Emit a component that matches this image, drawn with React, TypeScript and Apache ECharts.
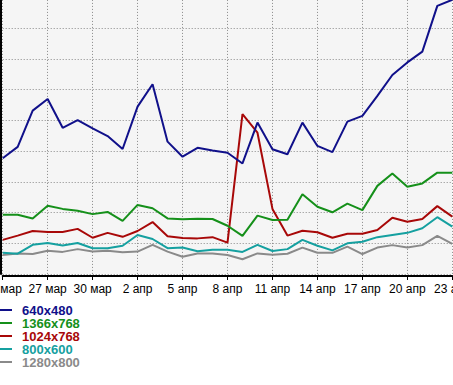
import React, { useEffect, useRef } from "react";
import * as echarts from "echarts";

const dates = [
  "24 мар", "25 мар", "26 мар", "27 мар", "28 мар", "29 мар", "30 мар", "31 мар",
  "1 апр", "2 апр", "3 апр", "4 апр", "5 апр", "6 апр", "7 апр", "8 апр",
  "9 апр", "10 апр", "11 апр", "12 апр", "13 апр", "14 апр", "15 апр", "16 апр",
  "17 апр", "18 апр", "19 апр", "20 апр", "21 апр", "22 апр", "23 апр",
];

const s640x480 = [
  37.7, 41.4, 53.2, 57.0, 47.6, 50.1, 47.4, 44.9, 40.7, 54.5, 61.8, 43.1, 38.2, 41.1, 40.2, 39.5,
  36.0, 49.3, 40.6, 39.0, 49.3, 41.7, 39.7, 49.6, 51.5, 58.0, 64.8, 68.9, 72.4, 87.3, 89.3,
];
const s1366x768 = [
  19.3, 19.3, 18.1, 22.2, 21.2, 20.6, 19.5, 20.2, 17.3, 22.5, 21.4, 18.1, 17.8, 18.0, 17.9, 15.7,
  12.4, 19.0, 17.6, 17.7, 26.0, 21.9, 20.1, 22.9, 20.8, 28.7, 32.7, 28.4, 29.5, 33.0, 33.0,
];
const s1024x768 = [
  11.1, 12.5, 14.0, 13.7, 13.7, 14.7, 11.8, 13.4, 12.1, 14.0, 16.9, 12.3, 11.7, 11.6, 12.0, 10.2,
  52.1, 46.0, 21.2, 12.5, 14.1, 13.6, 11.8, 13.1, 13.1, 14.3, 18.3, 17.0, 17.9, 22.1, 18.7,
];
const s800x600 = [
  6.9, 6.6, 9.5, 10.1, 9.3, 10.1, 8.4, 8.4, 9.2, 12.7, 11.4, 8.4, 8.6, 7.4, 7.9, 7.9,
  7.2, 9.5, 7.5, 8.1, 11.1, 9.2, 7.7, 10.0, 10.5, 12.0, 12.7, 13.4, 14.9, 18.5, 15.4,
];
const s1280x800 = [
  6.2, 6.7, 6.5, 7.6, 7.2, 8.1, 7.3, 7.6, 7.1, 7.3, 9.5, 7.3, 5.6, 6.7, 6.7, 6.2,
  4.8, 6.7, 6.3, 6.6, 8.6, 6.9, 6.9, 8.9, 6.5, 8.6, 9.4, 8.6, 9.4, 12.4, 9.8,
];

const seriesNames = ["640x480", "1366x768", "1024x768", "800x600", "1280x800"];
const seriesData = [s640x480, s1366x768, s1024x768, s800x600, s1280x800];
const seriesColors = ["#10108a", "#15901a", "#a80808", "#15a0a0", "#8a8a8a"];

export default function App() {
  const ref = useRef<HTMLDivElement>(null);
  useEffect(() => {
    if (!ref.current) return;
    const chart = echarts.init(ref.current, undefined, { renderer: "svg" });
    const font = "'Liberation Sans', Arial, sans-serif";
    chart.setOption({
      animation: false,
      backgroundColor: "#ffffff",
      grid: {
        left: 2.7,
        right: 0.7,
        top: -33.1,
        bottom: 111,
        containLabel: false,
        outerBoundsMode: "none",
        show: true,
        backgroundColor: "#f5f5f5",
        borderWidth: 0,
      },
      legend: {
        orient: "vertical",
        left: 0,
        top: 303.5,
        padding: 0,
        itemGap: 0,
        itemWidth: 12,
        itemHeight: 2,
        icon: "rect",
        textStyle: {
          fontFamily: font,
          fontSize: 13,
          fontWeight: "bold",
          lineHeight: 13,
          padding: [0, 0, 0, 5],
        },
        data: seriesNames.map((n, i) => ({
          name: n,
          textStyle: { color: seriesColors[i] },
        })),
      },
      xAxis: {
        type: "category",
        data: dates,
        boundaryGap: false,
        offset: 2,
        axisLine: { onZero: false, lineStyle: { color: "#000", width: 2 } },
        axisTick: { show: true, interval: 2, length: 4, lineStyle: { color: "#000", width: 1 } },
        axisLabel: {
          interval: 2,
          margin: 7,
          color: "#000",
          fontFamily: font,
          fontSize: 12,
          showMinLabel: true,
          showMaxLabel: true,
        },
        splitLine: {
          show: true,
          interval: 2,
          lineStyle: { color: "#888", width: 1, type: [1, 2] },
        },
      },
      yAxis: {
        type: "value",
        min: 0,
        max: 100,
        interval: 10,
        offset: 1.5,
        axisLine: { show: true, lineStyle: { color: "#000", width: 2 } },
        axisTick: { show: false },
        axisLabel: { show: false },
        splitLine: {
          show: true,
          lineStyle: { color: "#888", width: 1, type: [1, 2] },
        },
      },
      series: seriesNames.map((n, i) => ({
        name: n,
        type: "line",
        data: seriesData[i],
        symbol: "none",
        lineStyle: { color: seriesColors[i], width: 2 },
        itemStyle: { color: seriesColors[i] },
        z: 10 - i,
      })),
    });
    return () => chart.dispose();
  }, []);
  return (
    <div
      ref={ref}
      style={{ position: "fixed", left: 0, top: 0, width: 453, height: 385 }}
    />
  );
}
